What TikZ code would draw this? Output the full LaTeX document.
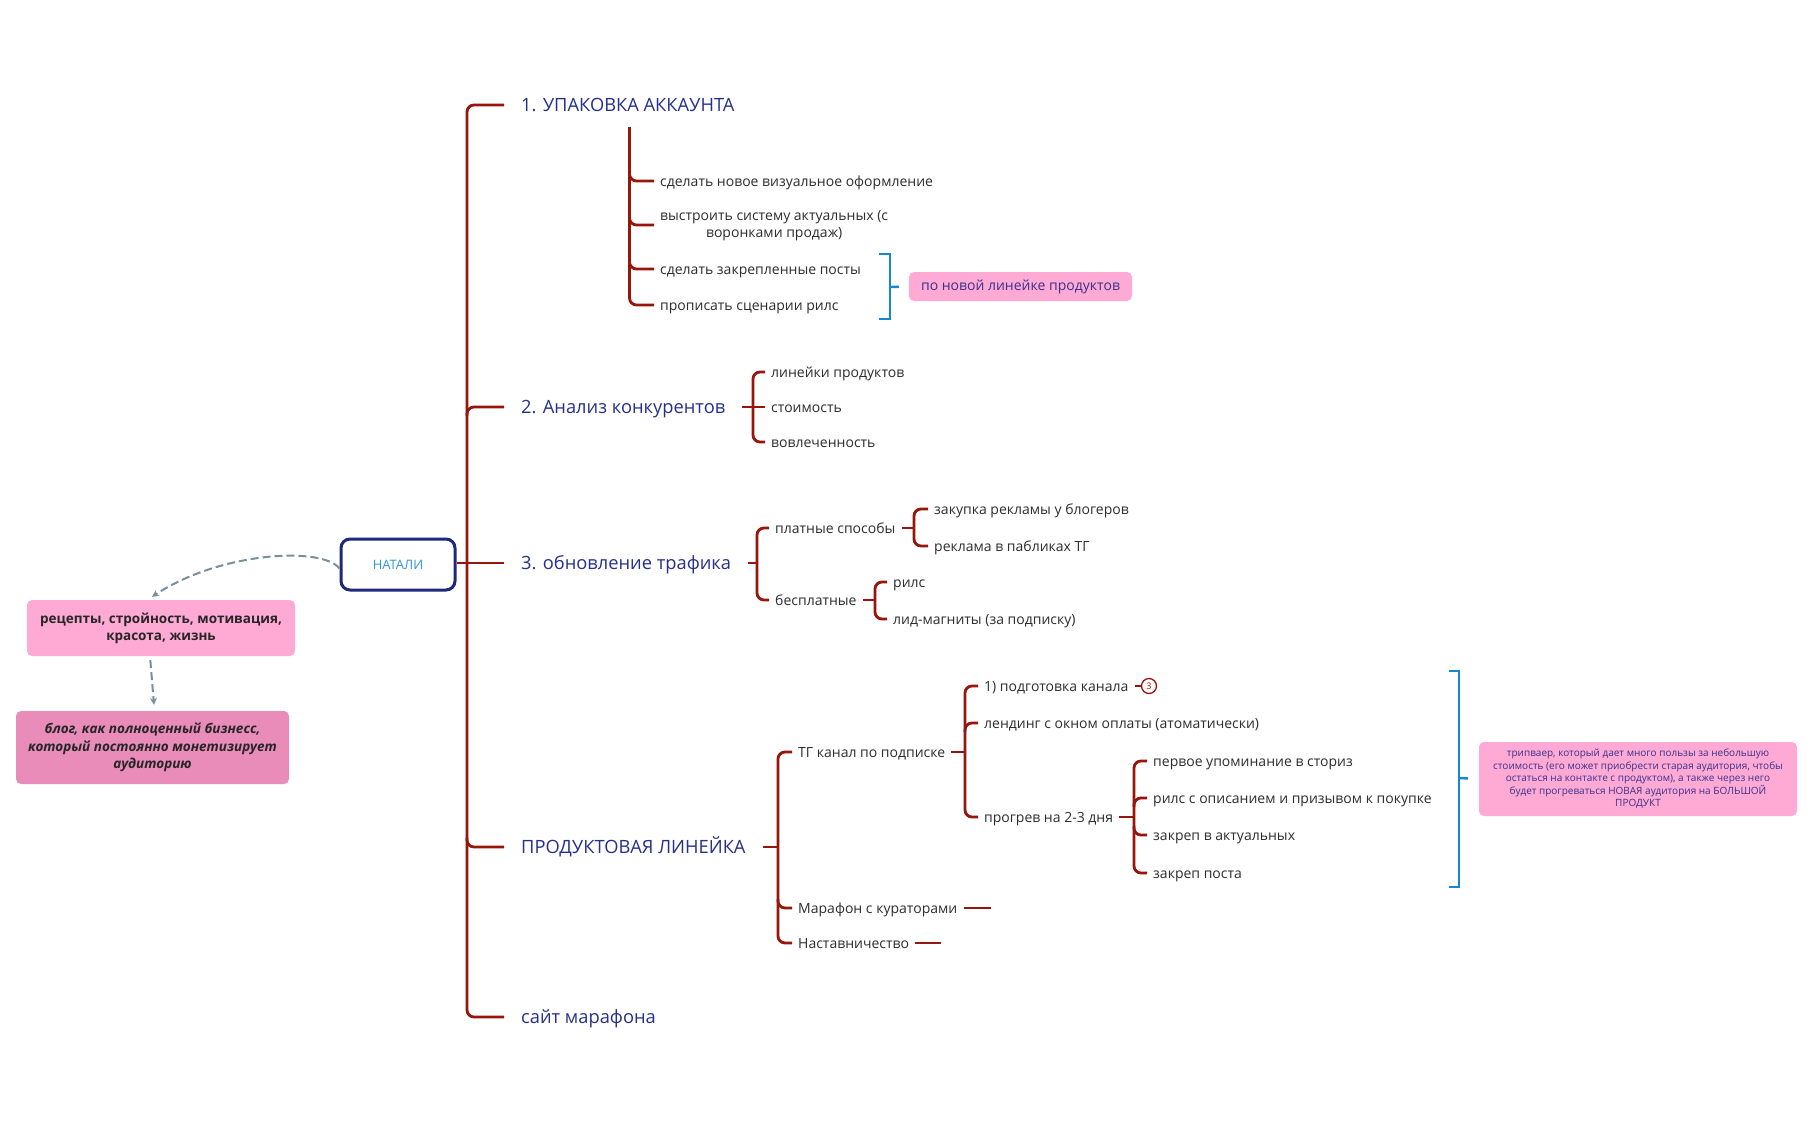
\documentclass[tikz,border=0pt]{standalone}
\usepackage{fontspec}
\setmainfont{Open Sans}
\usetikzlibrary{arrows.meta,calc,positioning}
\definecolor{brred}{RGB}{150,22,12}
\definecolor{ttl}{RGB}{38,48,138}
\definecolor{txt}{RGB}{45,45,45}
\definecolor{bblue}{RGB}{20,135,210}
\definecolor{pinkA}{RGB}{255,170,213}
\definecolor{pinkB}{RGB}{233,140,186}
\definecolor{navy}{RGB}{30,40,125}
\definecolor{natxt}{RGB}{50,150,215}
\definecolor{dashc}{RGB}{122,143,156}
\definecolor{ptxt}{RGB}{55,50,140}
\begin{document}
\begin{tikzpicture}[x=1pt,y=-1pt,
  br/.style={draw=brred,line width=2.8pt,rounded corners=7pt},
  bbr/.style={draw=bblue,line width=2.4pt},
  ttlnode/.style={anchor=west,inner xsep=17pt,inner ysep=0pt,text height=15pt,text depth=3pt,text=ttl,font=\fontsize{18.3}{22}\selectfont},
  leafbase/.style={anchor=west,inner xsep=6pt,inner ysep=2pt,text=txt,font=\fontsize{14}{17}\selectfont},
  leaf/.style={leafbase,inner ysep=0pt,text height=12pt,text depth=2pt},
  pinkbox/.style={fill=pinkA,rounded corners=5pt,inner sep=0pt,align=center},
  dasharrow/.style={draw=dashc,line width=2pt,dash pattern=on 8pt off 4pt,-{Stealth[length=7pt,width=7pt]}},
  circ/.style={circle,draw=brred,line width=1.3pt,inner sep=0pt,minimum size=15pt,text=brred,font=\fontsize{9}{10}\selectfont}
]
\useasboundingbox[fill=white] (0,0) rectangle (1813,1122);

% ---- centre node
\node[draw=navy,line width=3pt,rounded corners=9pt,minimum width=114pt,minimum height=51pt,inner sep=0pt,
      text=natxt,font=\fontsize{13}{15}\selectfont] (nat) at (398,564.5) {НАТАЛИ};

% ---- left boxes
\node[pinkbox,minimum width=268pt,minimum height=56pt,font=\bfseries\fontsize{13.5}{17}\selectfont,text=black!85]
  (q1) at (161,628) {рецепты, стройность, мотивация,\\красота, жизнь};
\node[pinkbox,fill=pinkB,minimum width=273pt,minimum height=73pt,font=\bfseries\itshape\fontsize{13.5}{17.5}\selectfont,text=black!85]
  (q2) at (152.5,747.5) {блог, как полноценный бизнесс,\\который постоянно монетизирует\\аудиторию};
\draw[dasharrow] ([yshift=-4pt]nat.west) .. controls (322,546) and (220,552) .. ([xshift=-9pt,yshift=3pt]q1.north);
\draw[dasharrow,shorten <=4pt,shorten >=6pt] ([xshift=-11pt]q1.south) -- ([xshift=2pt]q2.north);

% ---- main titles
\node[ttlnode] (t1) at (504,105) {1. УПАКОВКА АККАУНТА};
\node[ttlnode] (t2) at (504,407) {2. Анализ конкурентов};
\node[ttlnode] (t3) at (504,563) {3. обновление трафика};
\node[ttlnode] (t4) at (504,847) {ПРОДУКТОВАЯ ЛИНЕЙКА};
\node[ttlnode] (t5) at (504,1017) {сайт марафона};

\coordinate (mx) at (467,563);
\draw[br] (t1.west) -| (t5.west -| mx) -- (t5.west);
\draw[br] ($(t2.west -| mx)+(0,9)$) |- (t2.west);
\draw[br] ($(t4.west -| mx)+(0,-9)$) |- (t4.west);
\draw[br,rounded corners=0pt] (nat.east |- t3.west) -- (t3.west);

% ---- 1. packaging
\coordinate (b1) at (629.5,127);
\node[leaf] (a1) at (654,181) {сделать новое визуальное оформление};
\node[leafbase,align=center] (a2) at (654,226) {выстроить систему актуальных (с\\воронками продаж)};
\node[leaf] (a3) at (654,269) {сделать закрепленные посты};
\node[leaf] (a4) at (654,305) {прописать сценарии рилс};
\draw[br] (b1) |- (a4.west);
\draw[br] ($(a1.west -| b1)+(0,-9)$) |- (a1.west);
\draw[br] ($(a2.west -| b1)+(0,-9)$) |- ([yshift=1pt]a2.west);
\draw[br] ($(a3.west -| b1)+(0,-9)$) |- (a3.west);

\coordinate (u1) at (879,254);
\coordinate (u2) at (879,319);
\coordinate (u3) at (890,287);
\draw[bbr] (u1) -| (u3) |- (u2);
\node[pinkbox,minimum width=223pt,minimum height=29pt,text=ptxt,font=\fontsize{14}{17}\selectfont]
  (p1) at (1020.5,286.5) {по новой линейке продуктов};
\draw[bbr,shorten >=10pt] (u3) -- (p1.west);

% ---- 2. competitors
\coordinate (b2) at (753,407);
\draw[br] (t2.east) -- (b2);
\node[leaf] (c1) at (765,372) {линейки продуктов};
\node[leaf] (c2) at (765,407) {стоимость};
\node[leaf] (c3) at (765,442) {вовлеченность};
\draw[br] (c1.west) -| (c3.west -| b2) -- (c3.west);
\draw[br] (b2) -- (c2.west);

% ---- 3. traffic
\coordinate (b3) at (757,563);
\draw[br] (t3.east) -- (b3);
\node[leaf] (d1) at (769,528) {платные способы};
\node[leaf] (d2) at (769,600) {бесплатные};
\draw[br] (d1.west) -| (d2.west -| b3) -- (d2.west);

\coordinate (b3a) at (914,528);
\draw[br] (d1.east) -- (b3a);
\node[leaf] (e1) at (928,509) {закупка рекламы у блогеров};
\node[leaf] (e2) at (928,546) {реклама в пабликах ТГ};
\draw[br] (e1.west) -| (e2.west -| b3a) -- (e2.west);

\coordinate (b3b) at (875,600);
\draw[br] (d2.east) -- (b3b);
\node[leaf] (f1) at (887,582) {рилс};
\node[leaf] (f2) at (887,619) {лид-магниты (за подписку)};
\draw[br] (f1.west) -| (f2.west -| b3b) -- (f2.west);

% ---- 4. product line
\coordinate (b4) at (778,847);
\draw[br] (t4.east) -- (b4);
\node[leaf] (g1) at (792,752) {ТГ канал по подписке};
\node[leaf] (g2) at (792,908) {Марафон с кураторами};
\node[leaf] (g3) at (792,943) {Наставничество};
\draw[br] (g1.west) -| (g3.west -| b4) -- (g3.west);
\draw[br] ($(g2.west -| b4)+(0,-9)$) |- (g2.west);
\coordinate[right=27pt of g2] (g2e);
\coordinate[right=26pt of g3] (g3e);
\draw[br] (g2.east) -- (g2e);
\draw[br] (g3.east) -- (g3e);

\coordinate (b5) at (965,752);
\draw[br] (g1.east) -- (b5);
\node[leaf] (h1) at (978,686) {1) подготовка канала};
\node[leaf] (h2) at (978,723) {лендинг с окном оплаты (атоматически)};
\node[leaf] (h3) at (978,817) {прогрев на 2-3 дня};
\draw[br] (h1.west) -| (h3.west -| b5) -- (h3.west);
\draw[br] ($(h2.west -| b5)+(0,9)$) |- (h2.west);
\node[circ] (k3) at (1149,686) {3};
\draw[br,line width=1.8pt] (h1.east) -- (k3.west);

\coordinate (b6) at (1134,817);
\draw[br] (h3.east) -- (b6);
\node[leaf] (i1) at (1147,761) {первое упоминание в сториз};
\node[leaf] (i2) at (1147,798) {рилс с описанием и призывом к покупке};
\node[leaf] (i3) at (1147,835) {закреп в актуальных};
\node[leaf] (i4) at (1147,873) {закреп поста};
\draw[br] (i1.west) -| (i4.west -| b6) -- (i4.west);
\draw[br] ($(i2.west -| b6)+(0,9)$) |- (i2.west);
\draw[br] ($(i3.west -| b6)+(0,-9)$) |- (i3.west);

% ---- tripwire note
\coordinate (v1) at (1449,671);
\coordinate (v2) at (1449,887);
\coordinate (v3) at (1459,778);
\draw[bbr] (v1) -| (v3) |- (v2);
\node[pinkbox,minimum width=318pt,minimum height=74pt,text=ptxt,font=\fontsize{10}{12.5}\selectfont]
  (p2) at (1638,779) {трипваер, который дает много пользы за небольшую\\стоимость (его может приобрести старая аудитория, чтобы\\остаться на контакте с продуктом), а также через него\\будет прогреваться НОВАЯ аудитория на БОЛЬШОЙ\\ПРОДУКТ};
\draw[bbr,shorten >=11pt] (v3) -- (p2.west);
\end{tikzpicture}
\end{document}
